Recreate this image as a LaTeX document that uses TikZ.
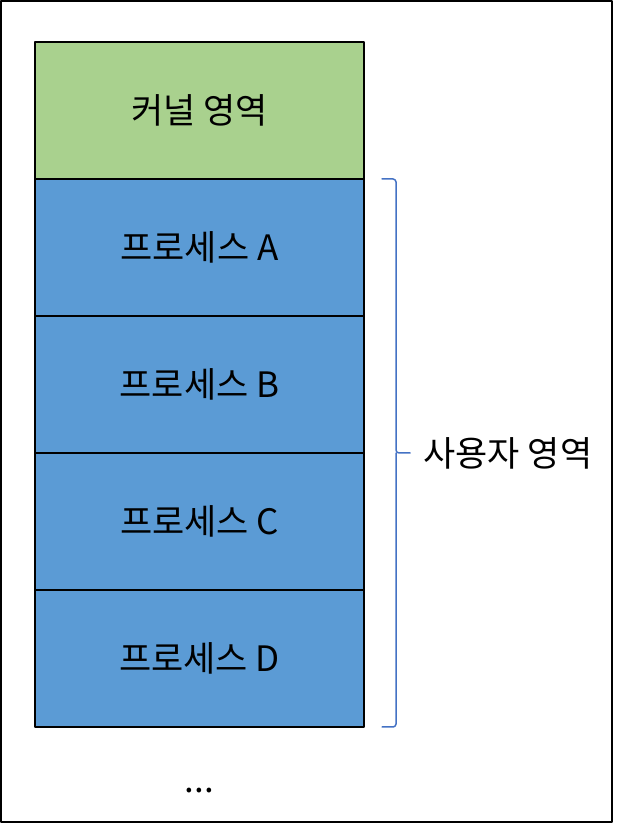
\documentclass[tikz,border=0pt]{standalone}
\usepackage{fontspec}
\setmainfont{Noto Sans CJK KR}
\usetikzlibrary{positioning,calc}
\definecolor{kerngreen}{HTML}{A9D18E}
\definecolor{procblue}{HTML}{5B9BD5}
\definecolor{bracblue}{HTML}{4472C4}
\tikzset{
  bigtext/.style={font=\fontsize{35}{41}\selectfont},
  membox/.style={draw=black, line width=2pt, minimum width=329pt, minimum height=137pt,
    inner sep=0pt, outer sep=0pt, bigtext},
  kernbox/.style={membox, fill=kerngreen},
  procbox/.style={membox, fill=procblue},
}
\begin{document}
\begin{tikzpicture}[x=1pt, y=1pt, line join=round, line cap=round]
\useasboundingbox (0,0) rectangle (621,825);
\draw[line width=2pt] (1,3) rectangle (612,824);
% memory layout
\node[kernbox, anchor=north west] (kern) at (35,783) {커널 영역};
\node[procbox, below=0pt of kern] (procA) {프로세스 A};
\node[procbox, below=0pt of procA] (procB) {프로세스 B};
\node[procbox, below=0pt of procB] (procC) {프로세스 C};
\node[procbox, below=0pt of procC] (procD) {프로세스 D};
\node[bigtext, anchor=base] (dots) at ([yshift=-66pt]procD.south) {...};
% brace for user space
\coordinate (btop) at ([xshift=32pt]procA.north east);
\coordinate (bbot) at ([xshift=32pt]procD.south east);
\coordinate (bmid) at ($(btop)!0.5!(bbot)$);
\draw[bracblue, line width=1.5pt, rounded corners=3pt]
  ([xshift=-14pt]btop) -- (btop) -- (bmid) -- ++(14pt,0);
\draw[bracblue, line width=1.5pt, rounded corners=3pt]
  ([xshift=-14pt]bbot) -- (bbot) -- (bmid);
\node[anchor=west, bigtext] (user) at ([xshift=24pt]bmid) {사용자 영역};
\end{tikzpicture}
\end{document}
